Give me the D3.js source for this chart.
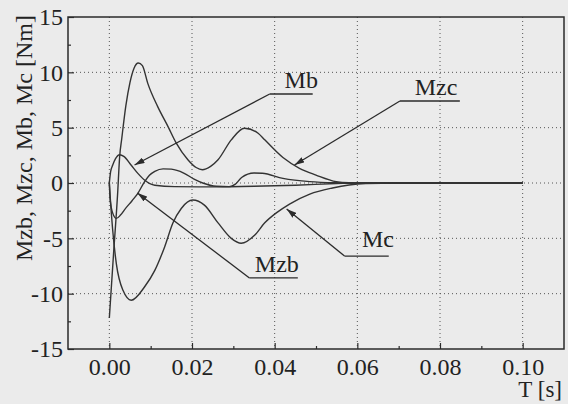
<!DOCTYPE html>
<html>
<head>
<meta charset="utf-8">
<script src="https://cdn.jsdelivr.net/npm/d3@7"></script>
<style>
    html, body { margin: 0; padding: 0; background: #ebebeb; }
    svg { display: block; }
    svg text { font-family: "Liberation Serif", "Times New Roman", Times, serif; }
</style>
</head>
<body>
<div id="chart"></div>
<script>
// time [s] / moment [Nm], one pair of arrays per curve
const mzcT = [0, 0.001, 0.002, 0.0025, 0.003, 0.004, 0.005, 0.006, 0.007, 0.008, 0.0093, 0.0117, 0.0142, 0.0162, 0.019, 0.021, 0.0225, 0.0245, 0.0263, 0.0295, 0.0327, 0.036, 0.0376, 0.042, 0.046, 0.050, 0.0549, 0.058, 0.062, 0.10];
const mzcV = [-12.2, -6.5, -1, 2.4, 4, 7.0, 9.1, 10.4, 10.85, 10.6, 9.0, 6.9, 5.1, 3.6, 2.1, 1.4, 1.2, 1.5, 2.1, 3.9, 4.95, 4.5, 3.9, 2.3, 1.33, 0.72, 0.12, 0.02, 0, 0];

const mbT = [0, 0.0003, 0.0008, 0.0015, 0.0025, 0.0035, 0.0053, 0.0069, 0.0085, 0.011, 0.0158, 0.025, 0.035, 0.045, 0.055, 0.06, 0.10];
const mbV = [0, 1.0, 1.6, 2.2, 2.55, 2.4, 1.6, 0.87, 0.27, -0.2, -0.33, -0.35, -0.3, -0.2, -0.05, 0, 0];

const mzbT = [0, 0.0002, 0.0008, 0.0017, 0.0027, 0.0037, 0.0055, 0.0069, 0.0085, 0.0097, 0.011, 0.013, 0.015, 0.018, 0.0205, 0.0226, 0.0259, 0.029, 0.0305, 0.032, 0.035, 0.037, 0.042, 0.0485, 0.055, 0.06, 0.10];
const mzbV = [0, -1.5, -2.7, -3.2, -2.9, -2.4, -1.6, -0.93, 0.1, 0.7, 1.05, 1.28, 1.25, 0.9, 0.35, 0, -0.3, -0.33, -0.1, 0.5, 0.9, 0.88, 0.42, 0.12, 0.02, 0, 0];

const mcT = [0, 0.0002, 0.0008, 0.0017, 0.0033, 0.0053, 0.0085, 0.011, 0.0134, 0.0154, 0.0174, 0.0202, 0.023, 0.0263, 0.0295, 0.0319, 0.0352, 0.0376, 0.0404, 0.0436, 0.0485, 0.054, 0.058, 0.062, 0.07, 0.10];
const mcV = [0, -1.2, -4.2, -7.3, -9.7, -10.6, -9.4, -7.9, -5.75, -3.6, -2.3, -1.54, -2.0, -3.6, -5.0, -5.45, -4.7, -3.6, -2.7, -1.9, -1.0, -0.45, -0.18, -0.05, 0, 0];

const xTicks = [0, 0.02, 0.04, 0.06, 0.08, 0.10];
const xMinor = [0.01, 0.03, 0.05, 0.07, 0.09];
const yTicks = [-15, -10, -5, 0, 5, 10, 15];
const yMinor = [-12.5, -7.5, -2.5, 2.5, 7.5, 12.5];

// labels with underline and arrow, in data units
const labels = [
    { name: 'Mb',  text: [0.0424, 8.58],  line: [0.0388, 0.0492, 8.04],  tip: [0.0061, 1.63] },
    { name: 'Mzc', text: [0.0739, 7.95],  line: [0.0703, 0.0848, 7.41],  tip: [0.0448, 1.63] },
    { name: 'Mc',  text: [0.0611, -5.78], line: [0.0569, 0.0676, -6.6],  tip: [0.0429, -2.35] },
    { name: 'Mzb', text: [0.0352, -8.04], line: [0.0339, 0.0456, -8.58], tip: [0.0068, -0.9] }
];

const width = 568, height = 404;
const frame = { left: 68, right: 564, top: 17, bottom: 349 };
const font = '"Liberation Serif", "Times New Roman", Times, serif';
const ink = '#2b2b2b';

const svg = d3.select('#chart').append('svg')
    .attr('width', width)
    .attr('height', height);

svg.append('rect')
    .attr('width', width)
    .attr('height', height)
    .attr('fill', '#ebebeb');

const x = d3.scaleLinear().domain([-0.01, 0.11]).range([frame.left, frame.right]);
const y = d3.scaleLinear().domain([-15, 15]).range([frame.bottom, frame.top]);

// dotted grid
svg.append('g').selectAll('line')
    .data(xTicks)
    .enter().append('line')
    .attr('x1', d => x(d)).attr('x2', d => x(d))
    .attr('y1', frame.top).attr('y2', frame.bottom)
    .attr('stroke', '#555').attr('stroke-width', 1)
    .attr('stroke-dasharray', '1,3');

svg.append('g').selectAll('line')
    .data(yTicks.slice(1, -1))
    .enter().append('line')
    .attr('x1', frame.left).attr('x2', frame.right)
    .attr('y1', d => y(d)).attr('y2', d => y(d))
    .attr('stroke', '#555').attr('stroke-width', 1)
    .attr('stroke-dasharray', '1,3');

// axes, ticks pointing inwards
const xAxis = svg.append('g')
    .attr('transform', 'translate(0,' + frame.bottom + ')')
    .call(d3.axisBottom(x).tickValues(xTicks).tickSize(-6).tickFormat(d3.format('.2f')));
svg.append('g')
    .attr('transform', 'translate(0,' + frame.bottom + ')')
    .call(d3.axisBottom(x).tickValues(xMinor).tickSize(-3).tickFormat(''));

svg.append('g')
    .attr('transform', 'translate(' + frame.left + ',0)')
    .call(d3.axisLeft(y).tickValues(yTicks).tickSize(-6).tickPadding(5).tickFormat(d => String(d)));
svg.append('g')
    .attr('transform', 'translate(' + frame.left + ',0)')
    .call(d3.axisLeft(y).tickValues(yMinor).tickSize(-3).tickFormat(''));

svg.selectAll('.domain').remove();
svg.selectAll('g').attr('font-family', font);
svg.selectAll('.tick line').attr('stroke', ink).attr('stroke-width', 1.2);
svg.selectAll('.tick text')
    .attr('fill', '#222')
    .attr('font-size', 24);
xAxis.selectAll('.tick text').attr('y', 26).attr('dy', null);

// frame
svg.append('rect')
    .attr('x', frame.left).attr('y', frame.top)
    .attr('width', frame.right - frame.left)
    .attr('height', frame.bottom - frame.top)
    .attr('fill', 'none')
    .attr('stroke', ink)
    .attr('stroke-width', 1.5);

// curves
const series = [[mzcT, mzcV], [mbT, mbV], [mzbT, mzbV], [mcT, mcV]];
const line = d3.line()
    .x(d => x(d[0]))
    .y(d => y(d[1]))
    .curve(d3.curveMonotoneX);

svg.append('g').selectAll('path')
    .data(series.map(s => d3.zip(s[0], s[1])))
    .enter().append('path')
    .attr('d', line)
    .attr('fill', 'none')
    .attr('stroke', '#333')
    .attr('stroke-width', 1.4);

// arrow head
svg.append('defs').append('marker')
    .attr('id', 'arrow')
    .attr('markerUnits', 'userSpaceOnUse')
    .attr('viewBox', '0 0 10 6')
    .attr('refX', 10).attr('refY', 3)
    .attr('markerWidth', 10).attr('markerHeight', 6)
    .attr('orient', 'auto')
    .append('path')
    .attr('d', 'M0,0L10,3L0,6Z')
    .attr('fill', ink);

const notes = svg.append('g');
labels.forEach(function (l) {
    notes.append('line')
        .attr('x1', x(l.line[0])).attr('x2', x(l.line[1]))
        .attr('y1', y(l.line[2])).attr('y2', y(l.line[2]))
        .attr('stroke', ink).attr('stroke-width', 1.3);
    notes.append('line')
        .attr('x1', x(l.line[0])).attr('y1', y(l.line[2]))
        .attr('x2', x(l.tip[0])).attr('y2', y(l.tip[1]))
        .attr('stroke', ink).attr('stroke-width', 1.3)
        .attr('marker-end', 'url(#arrow)');
    notes.append('text')
        .attr('x', x(l.text[0])).attr('y', y(l.text[1]))
        .attr('fill', '#222')
        .attr('font-family', font)
        .attr('font-size', 24)
        .text(l.name);
});

// axis titles
svg.append('text')
    .attr('transform', 'translate(32,138) rotate(-90)')
    .attr('text-anchor', 'middle')
    .attr('fill', '#222')
    .attr('font-family', font)
    .attr('font-size', 24)
    .text('Mzb, Mzc, Mb, Mc [Nm]');

svg.append('text')
    .attr('x', 562).attr('y', 397)
    .attr('text-anchor', 'end')
    .attr('fill', '#222')
    .attr('font-family', font)
    .attr('font-size', 23)
    .text('T [s]');
</script>
</body>
</html>
